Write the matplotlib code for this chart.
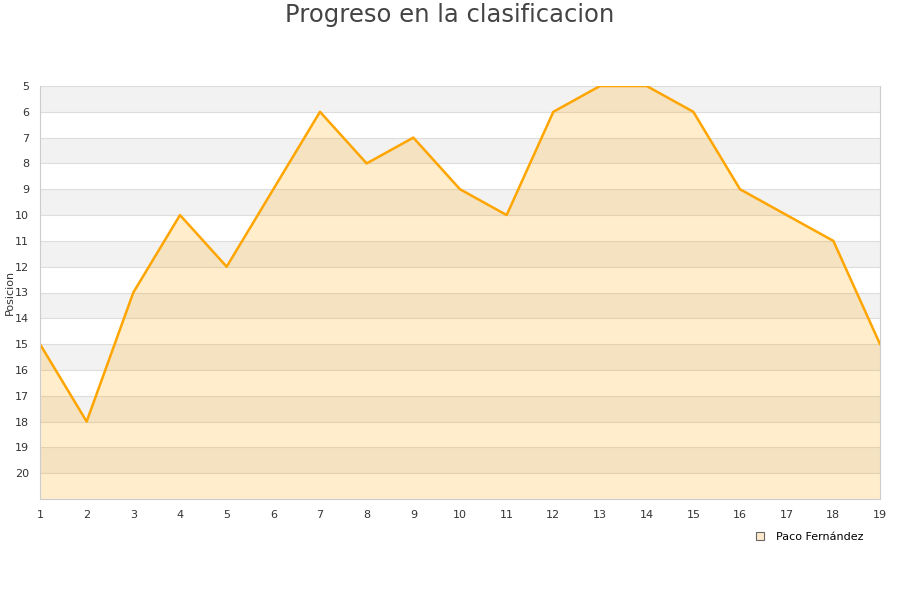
import matplotlib
matplotlib.use("Agg")
import matplotlib.pyplot as plt
from matplotlib.lines import Line2D

jornadas = list(range(1, 20))
posiciones = [15, 18, 13, 10, 12, 9, 6, 8, 7, 9, 10, 6, 5, 5, 6, 9, 10, 11, 15]
y_ticks = list(range(5, 21))
serie = "Paco Fernández"

fig = plt.figure(figsize=(9, 6), dpi=100)
ax = fig.add_axes([40/900, 101/600, 840/900, 413/600])

ymin, ymax = 5, 21
# alternating bands
for y0 in range(5, 21, 2):
    ax.axhspan(y0, y0 + 1, color="#F2F2F2", zorder=0, lw=0)
for y in range(5, 21):
    ax.axhline(y, color="#DDDDDD", lw=0.8, zorder=0.5)

ax.fill_between(jornadas, posiciones, ymax, color="#FFA500", alpha=0.2, lw=0, zorder=1)
ax.plot(jornadas, posiciones, color="#FFA500", lw=1.8, zorder=2)

ax.set_xlim(1, 19)
ax.set_ylim(ymax, ymin)
ax.set_xticks(jornadas)
ax.set_yticks(y_ticks)
ax.tick_params(length=0, labelsize=8, colors="#333333", pad=8)
for s in ax.spines.values():
    s.set_color("#CCCCCC")
    s.set_linewidth(0.8)
ax.spines["top"].set_visible(False)

ax.set_ylabel("Posicion", fontsize=8, color="#333333")
ax.yaxis.set_label_coords(-25/840, 0.5)

fig.text(0.5, 1 - 15/600, "Progreso en la clasificacion", fontsize=17.5, color="#444444",
         ha="center", va="center")

handle = Line2D([], [], marker="s", linestyle="none", markersize=6,
                markerfacecolor="#FFEACC", markeredgecolor="#666666", markeredgewidth=0.8)
leg = fig.legend([handle], [serie], loc="center right", bbox_to_anchor=(872/900, 1 - 537/600),
                 frameon=False, fontsize=8, handletextpad=0.4, borderpad=0.3)

fig.savefig("out.png", dpi=100)
